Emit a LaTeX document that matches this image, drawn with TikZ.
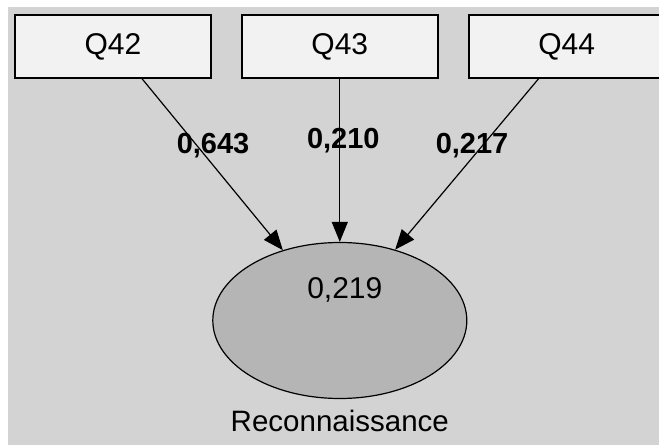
\documentclass[tikz,border=0pt]{standalone}
\usepackage{fontspec}
\setmainfont{Liberation Sans}
\usepackage{xcolor}
\usetikzlibrary{arrows.meta,positioning,shapes.geometric}

\definecolor{panelgray}{RGB}{211,211,211}
\definecolor{boxgray}{RGB}{242,242,242}
\definecolor{latentgray}{RGB}{181,181,181}

\begin{document}
\begin{tikzpicture}[
  x=1pt,y=1pt,
  node distance=29pt,
  every node/.style={inner sep=0pt},
  obsbox/.style={draw,line width=1.8pt,fill=boxgray,minimum width=196pt,minimum height=63pt,font=\fontsize{30}{36}\selectfont},
  latent/.style={ellipse,draw,line width=1.2pt,fill=latentgray,minimum width=254pt,minimum height=156pt},
  coef/.style={font=\fontsize{29}{34}\bfseries\selectfont},
  arrow/.style={-{Triangle[length=20pt,width=16pt]},line width=1.2pt}
]
\useasboundingbox (0,0) rectangle (659,445);
\clip (0,0) rectangle (659,445);
\fill[panelgray] (8,0) rectangle (659,438);

% indicators
\node[obsbox] (q42) at (113,398.5) {Q42};
\node[obsbox,right=of q42] (q43) {Q43};
\node[obsbox,right=of q43] (q44) {Q44};

% latent variable
\node[latent,below=163pt of q43] (rec) {};
\node[font=\fontsize{30}{36}\selectfont] (r2) at ([xshift=5pt,yshift=31pt]rec.center) {0,219};
\node[below=11pt of rec,font=\fontsize{29.5}{35}\selectfont] (recname) {Reconnaissance};

\draw[arrow] (q42.-48) -- node[coef,pos=.39,xshift=16pt] (w42) {0,643} (rec.129);
\draw[arrow] (q43.south) -- node[coef,pos=.38,xshift=3.5pt] (w43) {0,210} (rec.north);
\draw[arrow] (q44.-131) -- node[coef,pos=.39,xshift=-10.5pt] (w44) {0,217} (rec.52);
\end{tikzpicture}
\end{document}
